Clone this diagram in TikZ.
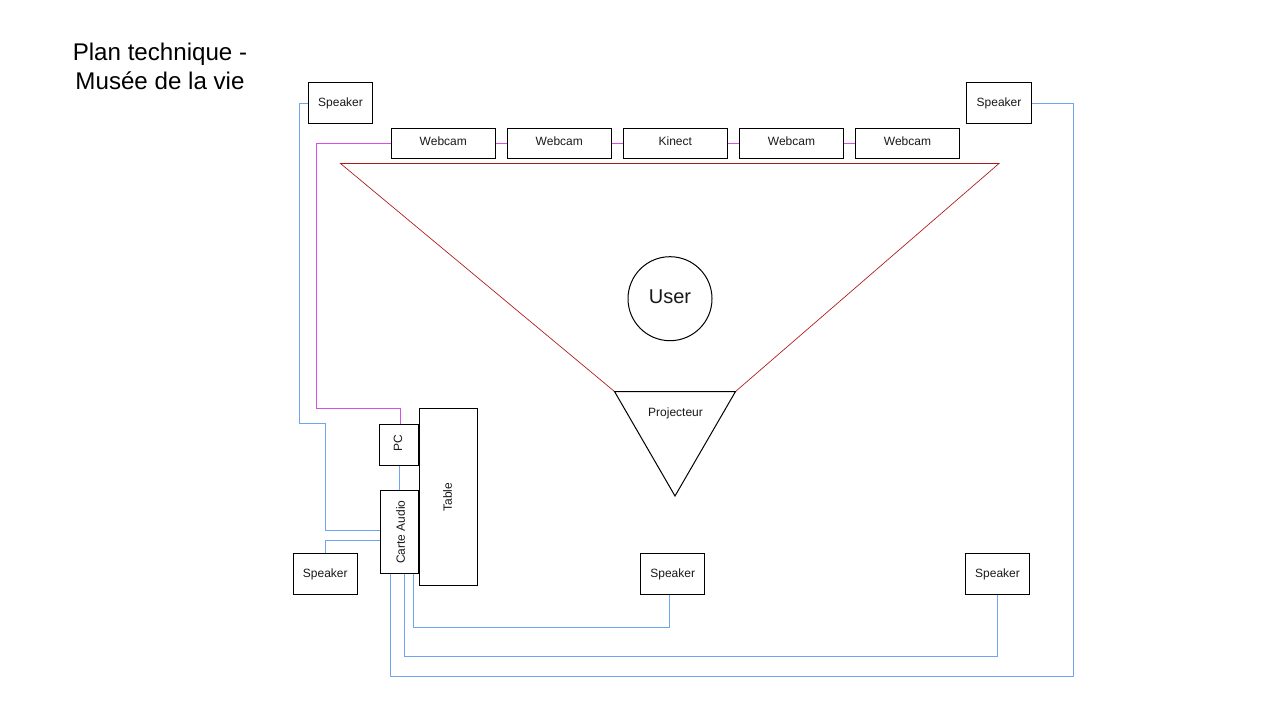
\documentclass[tikz,border=0pt]{standalone}
\usepackage{fontspec}
\setmainfont{Liberation Sans}
\definecolor{wireblue}{HTML}{6EA4F4}
\definecolor{wirepink}{HTML}{D84CE8}
\definecolor{beamred}{HTML}{B01818}
\newcommand{\upby}[2]{\raisebox{#1}{#2}}
\tikzset{
  x=0.75pt,y=-0.75pt,
  boxn/.style={draw=black,line width=0.75pt,fill=white,inner sep=0pt,font=\fontsize{9}{11}\selectfont,text=black!90},
  spk/.style={boxn,minimum width=48.4pt,minimum height=30.8pt},
  cam/.style={boxn,minimum width=78.4pt,minimum height=22.5pt},
  vtext/.style={font=\fontsize{9}{11}\selectfont,text=black!90,rotate=90,inner sep=0pt},
  bluew/.style={draw=wireblue,line width=0.6pt},
  pinkw/.style={draw=wirepink,line width=0.6pt},
  beam/.style={draw=beamred,line width=0.5pt}
}
\begin{document}
\begin{tikzpicture}
\useasboundingbox (0,0) rectangle (1280,720);
\fill[white] (0,0) rectangle (1280,720);
\coordinate (beamL) at (340.5,163.5);
\coordinate (beamR) at (999,163.5);
\coordinate (projL) at (614.5,391.5);
\coordinate (projR) at (735.5,391.5);
\coordinate (projB) at (675,496);
\draw[beam] (projL) -- (beamL) -- (beamR) -- (projR);
\draw[line width=0.75pt,line join=miter] (projL) -- (projR) -- (projB) -- cycle;
\node[font=\fontsize{9}{11}\selectfont,text=black!90,inner sep=0pt] (proj) at (675.5,413.2) {Projecteur};

\node[spk] (sTL) at (340.5,103) {\upby{-0.8pt}{Speaker}};
\node[spk] (sTR) at (999,103) {\upby{-0.8pt}{Speaker}};
\node[spk] (sBL) at (325.3,574) {\upby{-1.4pt}{Speaker}};
\node[spk] (sBM) at (672.7,574) {\upby{-1.4pt}{Speaker}};
\node[spk] (sBR) at (997.5,574) {\upby{-1.4pt}{Speaker}};

\node[cam] (w1) at (443.3,143.2) {\upby{3pt}{Webcam}};
\node[cam] (w2) at (559.3,143.2) {\upby{3pt}{Webcam}};
\node[cam] (k)  at (675.3,143.2) {\upby{3pt}{Kinect}};
\node[cam] (w3) at (791.5,143.2) {\upby{3pt}{Webcam}};
\node[cam] (w4) at (907.5,143.2) {\upby{3pt}{Webcam}};
\draw[pinkw] (w1) -- (w2);
\draw[pinkw] (w2) -- (k);
\draw[pinkw] (k) -- (w3);
\draw[pinkw] (w3) -- (w4);

\node[draw=black,line width=0.75pt,inner sep=0pt,minimum width=43.1pt,minimum height=133pt] (table) at (448.3,497.3) {};
\node[vtext] (tablet) at (447.5,497.3) {Table};
\node[draw=black,line width=0.75pt,inner sep=0pt,minimum width=29.2pt,minimum height=30.8pt] (pc) at (399,444.7) {};
\node[vtext] (pct) at (398,443.5) {PC};
\node[draw=black,line width=0.75pt,inner sep=0pt,minimum width=29.2pt,minimum height=62.2pt] (carte) at (399.5,532) {};
\node[vtext] (cartet) at (400.5,532) {Carte Audio};

\node[draw=black,line width=0.75pt,circle,inner sep=0pt,minimum size=63pt,font=\fontsize{15}{18}\selectfont,text=black!90] (user) at (670,298.7) {\upby{3pt}{User}};

\node[font=\fontsize{18.1}{21.8}\selectfont,align=center,inner sep=0pt,text=black] (title) at (160,66.5) {Plan technique -\\Musée de la vie};

\draw[pinkw] (w1.west) -- (316,143.2) -- (316,408) -- (400.5,408) -- (400.5,0 |- pc.north);
\draw[bluew] (pc.south -| 399.5,0) -- (carte.north -| 399.5,0);
\draw[bluew] (sTL.west) -- (299.5,103) -- (299.5,423) -- (325,423) -- (325,530) -- (carte.west |- 0,530);
\draw[bluew] (sBL.north) -- (325.3,540.5) -- (carte.west |- 0,540.5);
\draw[bluew] (carte.south -| 413.5,0) -- (413.5,627.5) -- (669.5,627.5) -- (sBM.south -| 669.5,0);
\draw[bluew] (carte.south -| 404.5,0) -- (404.5,656.5) -- (997.5,656.5) -- (sBR.south);
\draw[bluew] (carte.south -| 390.5,0) -- (390.5,676.5) -- (1073.5,676.5) -- (1073.5,103) -- (sTR.east);
\end{tikzpicture}
\end{document}
